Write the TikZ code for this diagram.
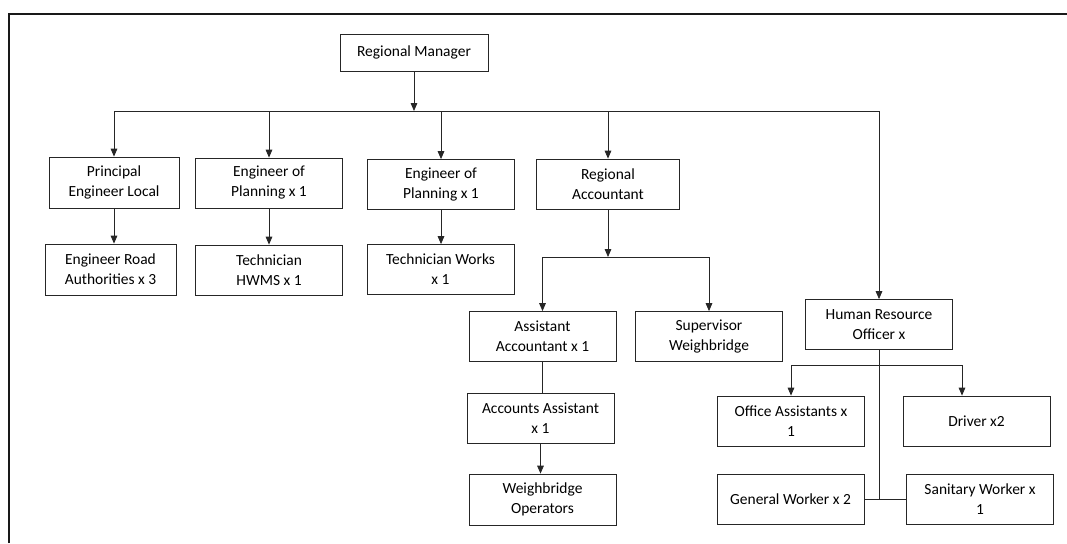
\documentclass[tikz,border=0pt]{standalone}
\usepackage{fontspec}
\setmainfont{Carlito}
\usetikzlibrary{arrows.meta}

\tikzset{
  orgbox/.style={draw=black!85, line width=0.6pt, align=center, inner sep=0pt,
    minimum width=147*0.75pt, minimum height=50*0.75pt,
    font=\fontsize{11.6}{15}\selectfont},
  boxsize/.style 2 args={minimum width=#1*0.75pt, minimum height=#2*0.75pt},
  link/.style={line width=0.6pt, draw=black!85},
  arr/.style={link, -{Triangle[length=6pt, width=5pt]}},
  frame/.style={line width=1.5pt, draw=black!90}
}

\begin{document}
\begin{tikzpicture}[x=0.75pt, y=-0.75pt] % Pixelraster
  \useasboundingbox (0,0) rectangle (1067,543);

  % Rahmen, nur oben und links sichtbar
  \draw[frame] (9,543) -- (9,14) -- (1067,14);

  % Leitung
  \node[orgbox, boxsize={148}{37}] (rm) at (414,52.5) {Regional Manager};

  % erste Ebene
  \node[orgbox, boxsize={130}{51}] (pe) at (114,182.5) {Principal\\Engineer Local};
  \node[orgbox] (ep1) at (269,183) {Engineer of\\Planning x 1};
  \node[orgbox] (ep2) at (441,184.5) {Engineer of\\Planning x 1};
  \node[orgbox, boxsize={143}{50}] (ra) at (608,184) {Regional\\Accountant};
  \node[orgbox] (hr) at (879,324.5) {Human Resource\\Officer x};

  % zweite Ebene
  \node[orgbox, boxsize={131}{51}] (era) at (110.5,269.5) {Engineer Road\\Authorities x 3};
  \node[orgbox] (th) at (269,270) {Technician\\HWMS x 1};
  \node[orgbox] (tw) at (440.5,269.5) {Technician Works\\x 1};

  % Buchhaltung
  \node[orgbox] (aa) at (542.5,336.5) {Assistant\\Accountant x 1};
  \node[orgbox] (sw) at (709,336.5) {Supervisor\\Weighbridge};
  \node[orgbox] (aca) at (540.5,418.5) {Accounts Assistant\\x 1};
  \node[orgbox, boxsize={147}{51}] (wo) at (542.5,499.5) {Weighbridge\\Operators};

  % Personal
  \node[orgbox] (oa) at (791,421) {Office Assistants x\\1};
  \node[orgbox] (dr) at (976.5,421) {Driver x2};
  \node[orgbox] (gw) at (790.5,499) {General Worker x 2};
  \node[orgbox] (saw) at (980,499) {Sanitary Worker x\\1};

  % Hauptschiene
  \coordinate (bus) at (0,111);
  \draw[link] (pe |- bus) -- (hr |- bus);
  \draw[arr] (rm.south) -- (rm |- bus);
  \foreach \n in {pe,ep1,ep2,ra,hr} {
    \draw[arr] (\n |- bus) -- (\n.north);
  }

  % Technik
  \foreach \a/\b in {pe/era, ep1/th, ep2/tw} {
    \draw[arr] (\a.south) -- (\a.south |- \b.north);
  }

  % Buchhaltung
  \coordinate (rabus) at (0,257);
  \draw[arr] (ra.south) -- (ra |- rabus);
  \draw[link] (aa |- rabus) -- (sw |- rabus);
  \draw[arr] (aa |- rabus) -- (aa.north);
  \draw[arr] (sw |- rabus) -- (sw.north);
  \draw[link] (aa.south) -- (aa.south |- aca.north);
  \draw[arr] (aca.south) -- (aca.south |- wo.north);

  % Personal
  \coordinate (hrbus) at (0,365);
  \coordinate (drdrop) at (962,365);
  \draw[link] (hr.south) -- (hr |- gw);
  \draw[link] (gw.east) -- (saw.west);
  \draw[link] (oa |- hrbus) -- (drdrop);
  \draw[arr] (oa |- hrbus) -- (oa.north);
  \draw[arr] (drdrop) -- (drdrop |- dr.north);
\end{tikzpicture}
\end{document}
